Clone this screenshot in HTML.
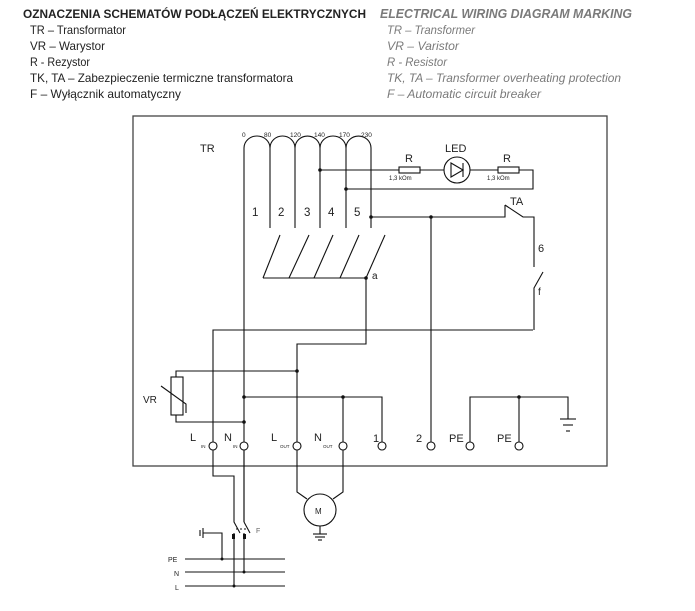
<!DOCTYPE html>
<html><head><meta charset="utf-8"><style>
html,body{margin:0;padding:0;background:#fff;}
svg{display:block;}
.t{font-family:"Liberation Sans",sans-serif;fill:#222;}
.g{font-family:"Liberation Sans",sans-serif;fill:#7a7a7a;font-style:italic;}
</style></head><body>
<svg width="695" height="611" viewBox="0 0 695 611" xmlns="http://www.w3.org/2000/svg">
<!-- header -->
<text class="t" x="23" y="18" font-size="12" font-weight="bold" textLength="343" lengthAdjust="spacingAndGlyphs">OZNACZENIA SCHEMATÓW PODŁĄCZEŃ ELEKTRYCZNYCH</text>
<text class="t" x="30" y="34" font-size="12" textLength="96" lengthAdjust="spacingAndGlyphs">TR – Transformator</text>
<text class="t" x="30" y="50" font-size="12" textLength="75" lengthAdjust="spacingAndGlyphs">VR – Warystor</text>
<text class="t" x="30" y="66" font-size="12" textLength="60" lengthAdjust="spacingAndGlyphs">R - Rezystor</text>
<text class="t" x="30" y="82" font-size="12" textLength="263" lengthAdjust="spacingAndGlyphs">TK, TA – Zabezpieczenie termiczne transformatora</text>
<text class="t" x="30" y="98" font-size="12" textLength="151" lengthAdjust="spacingAndGlyphs">F – Wyłącznik automatyczny</text>
<text class="g" x="380" y="18" font-size="12.5" font-weight="bold" textLength="252" lengthAdjust="spacingAndGlyphs" style="font-weight:600">ELECTRICAL WIRING DIAGRAM MARKING</text>
<text class="g" x="387" y="34" font-size="12" textLength="88" lengthAdjust="spacingAndGlyphs">TR – Transformer</text>
<text class="g" x="387" y="50" font-size="12" textLength="72" lengthAdjust="spacingAndGlyphs">VR – Varistor</text>
<text class="g" x="387" y="66" font-size="12" textLength="60" lengthAdjust="spacingAndGlyphs">R - Resistor</text>
<text class="g" x="387" y="82" font-size="12" textLength="234" lengthAdjust="spacingAndGlyphs">TK, TA – Transformer overheating protection</text>
<text class="g" x="387" y="98" font-size="12" textLength="154" lengthAdjust="spacingAndGlyphs">F – Automatic circuit breaker</text>

<!-- box -->
<rect x="133" y="116" width="474" height="350" fill="none" stroke="#444" stroke-width="1.3"/>

<g fill="none" stroke="#111" stroke-width="1.1">
<!-- coils -->
<path d="M244,148 A13,12 0 0 1 270,148 A12.5,12 0 0 1 295,148 A12.5,12 0 0 1 320,148 A13,12 0 0 1 346,148 A12.5,12 0 0 1 371,148"/>
<line x1="244" y1="148" x2="244" y2="522"/>
<line x1="270" y1="148" x2="270" y2="228"/>
<line x1="295" y1="148" x2="295" y2="228"/>
<line x1="320" y1="148" x2="320" y2="228"/>
<line x1="346" y1="148" x2="346" y2="228"/>
<line x1="371" y1="148" x2="371" y2="228"/>
<!-- LED circuit -->
<line x1="320" y1="170" x2="399" y2="170"/>
<rect x="399" y="167" width="21" height="6"/>
<line x1="420" y1="170" x2="444" y2="170"/>
<circle cx="457" cy="170" r="13"/>
<path d="M451,163 L451,177 L463,170 Z"/>
<line x1="463" y1="163" x2="463" y2="177"/>
<line x1="470" y1="170" x2="498" y2="170"/>
<rect x="498" y="167" width="21" height="6"/>
<polyline points="519,170 533,170 533,189 346,189"/>
<!-- TA line -->
<polyline points="371,217 505,217 505,205"/>
<polyline points="505,205 523,217 534,217 534,267"/>
<polyline points="543,272 534,288 534,330"/>
<line x1="431" y1="217" x2="431" y2="442"/>
<!-- brush a -->
<line x1="280" y1="235" x2="263" y2="278"/>
<line x1="309" y1="235" x2="289" y2="278"/>
<line x1="333" y1="235" x2="314" y2="278"/>
<line x1="359" y1="235" x2="340" y2="278"/>
<line x1="385" y1="235" x2="366" y2="278"/>
<line x1="263" y1="278" x2="366" y2="278"/>
<polyline points="366,278 366,344 297,344 297,442"/>
<!-- L_IN -->
<polyline points="533,330 213,330 213,442"/>
<!-- VR -->
<polyline points="176,377 176,371 297,371"/>
<polyline points="176,415 176,422 244,422"/>
<rect x="171" y="377" width="12" height="38"/>
<polyline points="161,386 186,404 186,413"/>
<!-- N line -->
<polyline points="244,397 382,397 382,442"/>
<line x1="343" y1="397" x2="343" y2="442"/>
<!-- PE -->
<polyline points="470,442 470,397 568,397 568,419"/>
<line x1="519" y1="397" x2="519" y2="442"/>
<line x1="560" y1="419" x2="576" y2="419"/>
<line x1="563" y1="425" x2="573" y2="425"/>
<line x1="566" y1="431" x2="570" y2="431"/>
<!-- terminals -->
<g fill="#fff">
<circle cx="213" cy="446" r="4"/><circle cx="244" cy="446" r="4"/>
<circle cx="297" cy="446" r="4"/><circle cx="343" cy="446" r="4"/>
<circle cx="382" cy="446" r="4"/><circle cx="431" cy="446" r="4"/>
<circle cx="470" cy="446" r="4"/><circle cx="519" cy="446" r="4"/>
</g>
<!-- below box -->
<polyline points="213,450 213,476 234,476 234,522 240,533"/>
<line x1="234" y1="533" x2="234" y2="586"/>
<line x1="244" y1="450" x2="244" y2="522"/>
<line x1="244" y1="522" x2="250" y2="533"/>
<line x1="244" y1="533" x2="244" y2="572"/>
<line x1="236" y1="529" x2="247" y2="529" stroke-dasharray="2,2"/>
<!-- motor -->
<polyline points="297,450 297,492 307,499"/>
<polyline points="343,450 343,492 333,499"/>
<circle cx="320" cy="510" r="16"/>
<line x1="320" y1="526" x2="320" y2="534"/>
<line x1="313" y1="534" x2="327" y2="534"/>
<line x1="315" y1="537" x2="325" y2="537"/>
<line x1="318" y1="540" x2="322" y2="540"/>
<!-- mains -->
<line x1="185" y1="559" x2="285" y2="559"/>
<line x1="185" y1="572" x2="285" y2="572"/>
<line x1="185" y1="586" x2="285" y2="586"/>
<polyline points="203,533 222,533 222,559"/>
<line x1="203" y1="528" x2="203" y2="538"/>
<line x1="200" y1="530" x2="200" y2="536"/>
</g>
<!-- dots -->
<g fill="#111">
<circle cx="320" cy="170" r="1.8"/><circle cx="346" cy="189" r="1.8"/>
<circle cx="371" cy="217" r="1.8"/><circle cx="431" cy="217" r="1.8"/>
<circle cx="366" cy="278" r="1.8"/><circle cx="297" cy="371" r="1.8"/>
<circle cx="244" cy="397" r="1.8"/><circle cx="343" cy="397" r="1.8"/>
<circle cx="244" cy="422" r="1.8"/><circle cx="519" cy="397" r="1.8"/>
<circle cx="222" cy="559" r="1.5"/><circle cx="244" cy="572" r="1.5"/><circle cx="234" cy="586" r="1.5"/>
<rect x="232" y="534" width="3" height="5"/><rect x="243" y="534" width="3" height="5"/>
</g>
<!-- labels -->
<g class="t">
<text x="200" y="152" font-size="11">TR</text>
<g font-size="6.5">
<text x="242" y="137">0</text><text x="264" y="137">80</text><text x="290" y="137">120</text>
<text x="314" y="137">140</text><text x="339" y="137">170</text><text x="361" y="137">230</text>
</g>
<g font-size="11.5">
<text x="252" y="216">1</text><text x="278" y="216">2</text><text x="304" y="216">3</text>
<text x="328" y="216">4</text><text x="354" y="216">5</text>
</g>
<text x="405" y="162" font-size="11">R</text>
<text x="503" y="162" font-size="11">R</text>
<text x="445" y="152" font-size="11">LED</text>
<text x="389" y="180" font-size="6">1,3 kOm</text>
<text x="487" y="180" font-size="6">1,3 kOm</text>
<text x="510" y="205" font-size="11">TA</text>
<text x="538" y="252" font-size="11">6</text>
<text x="538" y="295" font-size="10">f</text>
<text x="372" y="279" font-size="10">a</text>
<text x="143" y="403" font-size="10">VR</text>
<text x="190" y="441" font-size="11">L</text><text x="201" y="448" font-size="4.5">IN</text>
<text x="224" y="441" font-size="11">N</text><text x="233" y="448" font-size="4.5">IN</text>
<text x="271" y="441" font-size="11">L</text><text x="280" y="448" font-size="4.5">OUT</text>
<text x="314" y="441" font-size="11">N</text><text x="323" y="448" font-size="4.5">OUT</text>
<text x="373" y="442" font-size="11">1</text>
<text x="416" y="442" font-size="11">2</text>
<text x="449" y="442" font-size="11">PE</text>
<text x="497" y="442" font-size="11">PE</text>
<text x="315" y="514" font-size="8">M</text>
<text x="256" y="533" font-size="7" fill="#666">F</text>
<text x="168" y="562" font-size="7">PE</text>
<text x="174" y="576" font-size="7">N</text>
<text x="175" y="590" font-size="7">L</text>
</g>
</svg>
</body></html>
